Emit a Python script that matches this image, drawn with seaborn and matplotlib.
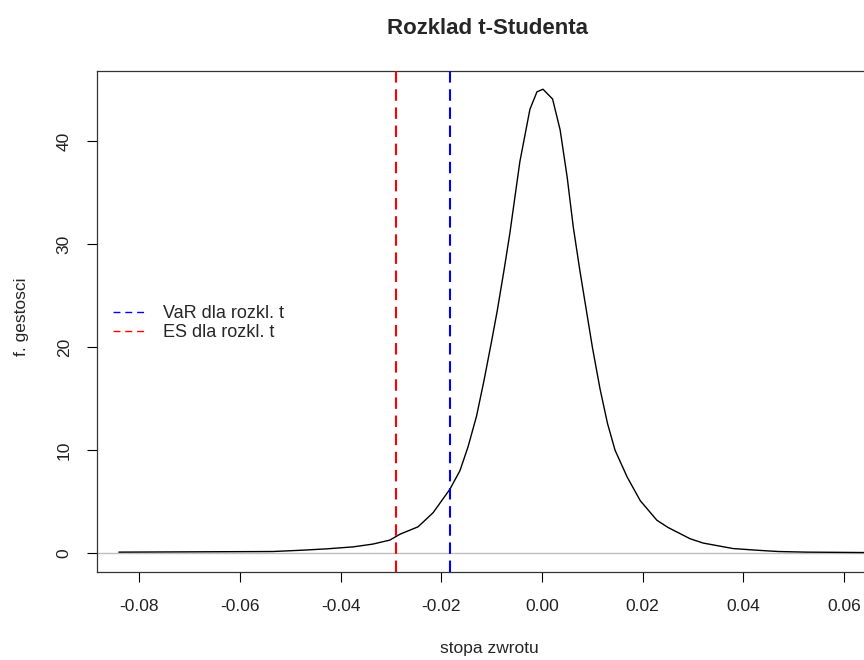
import matplotlib
matplotlib.use("Agg")
import matplotlib.pyplot as plt
import seaborn as sns
import pandas as pd
from matplotlib.lines import Line2D

# ---- data ----
stopa = [-0.0840, -0.0534, -0.0475, -0.0427, -0.0375, -0.0336, -0.0302, -0.0282,
         -0.0246, -0.0216, -0.0183, -0.0163, -0.0147, -0.0130, -0.0115, -0.0100,
         -0.0089, -0.0075, -0.0064, -0.0044, -0.0024, -0.0010, 0.0002, 0.0021,
         0.0036, 0.0050, 0.0062, 0.0075, 0.0085, 0.0100, 0.0115, 0.0130, 0.0145,
         0.0169, 0.0195, 0.0228, 0.0250, 0.0274, 0.0294, 0.0320, 0.0379, 0.0425,
         0.0469, 0.0525, 0.0640, 0.0670]
gestosc = [0.10, 0.16, 0.29, 0.42, 0.61, 0.88, 1.27, 1.84,
           2.56, 3.94, 6.20, 8.00, 10.3, 13.3, 16.8, 20.6,
           23.5, 27.6, 31.0, 38.0, 43.1, 44.8, 45.05, 44.1,
           41.1, 36.5, 31.7, 27.5, 24.5, 20.0, 16.0, 12.6, 10.0,
           7.4, 5.1, 3.2, 2.5, 1.9, 1.4, 0.98, 0.45, 0.29,
           0.16, 0.10, 0.06, 0.05]
var_t = -0.0183
es_t = -0.0290
legend_labels = ["VaR dla rozkl. t", "ES dla rozkl. t"]
xticks = [-0.08, -0.06, -0.04, -0.02, 0.00, 0.02, 0.04, 0.06]
xticklabels = ["-0.08", "-0.06", "-0.04", "-0.02", "0.00", "0.02", "0.04", "0.06"]
yticks = [0, 10, 20, 30, 40]
yticklabels = ["0", "10", "20", "30", "40"]

df = pd.DataFrame({"stopa zwrotu": stopa, "f. gestosci": gestosc})

sns.set_style("white")
plt.rcParams["font.family"] = ["Liberation Sans", "DejaVu Sans"]
plt.rcParams["axes.unicode_minus"] = False

W, H = 864, 660
fig = plt.figure(figsize=(W / 100, H / 100), dpi=100)
L, R, T, B = 96.7, 879.0, 70.7, 571.7
ax = fig.add_axes([L / W, 1 - B / H, (R - L) / W, (B - T) / H])

ax.axhline(0, color="#BEBEBE", lw=1.0, zorder=1)
sns.lineplot(data=df, x="stopa zwrotu", y="f. gestosci", ax=ax, color="black",
             lw=1.0, estimator=None, sort=True, zorder=3)
ax.axvline(var_t, color="#0000FF", lw=1.5, linestyle=(0, (5.5, 3.2)), zorder=4)
ax.axvline(es_t, color="#FF0000", lw=1.5, linestyle=(0, (5.5, 3.2)), zorder=4)

ax.set_xlim(-0.0884, 0.0669)
ax.set_ylim(-1.80, 46.85)
ax.set_xticks(xticks)
ax.set_xticklabels(xticklabels)
ax.set_yticks(yticks)
ax.set_yticklabels(yticklabels, rotation=90, va="center")
ax.tick_params(direction="out", length=7, width=0.8, color="black",
               labelsize=12.5, pad=13, left=True, bottom=True, labelcolor="#222222")
ax.tick_params(axis="y", pad=11)
for s in ax.spines.values():
    s.set_visible(True)
    s.set_color("#333333")
    s.set_linewidth(0.9)
ax.set_xlabel("")
ax.set_ylabel("")

fig.text(488 / W, 1 - 28 / H, "Rozklad t-Studenta", ha="center", va="center",
         fontsize=16, fontweight="bold")
fig.text(489 / W, 1 - 649 / H, "stopa zwrotu", ha="center", va="center", fontsize=12.5)
fig.text(21.5 / W, 1 - 317 / H, "f. gestosci", ha="center", va="center",
         rotation=90, fontsize=12.5)

handles = [Line2D([], [], color="#0000FF", lw=1.0, linestyle=(0, (5, 3.5))),
           Line2D([], [], color="#FF0000", lw=1.0, linestyle=(0, (5, 3.5)))]
fig.legend(handles, legend_labels, loc="upper left",
           bbox_to_anchor=(113 / W, 1 - 305 / H), frameon=False, fontsize=13,
           borderpad=0, borderaxespad=0, handlelength=1.9, handletextpad=0.85,
           labelspacing=0.12)

fig.savefig("out.png", dpi=100)
